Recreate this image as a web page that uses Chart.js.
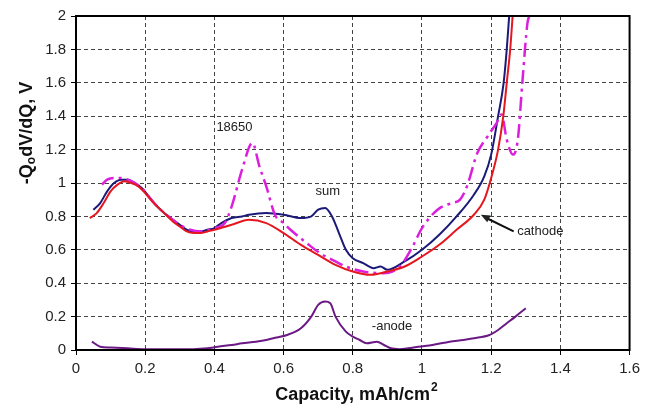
<!DOCTYPE html>
<html>
<head>
<meta charset="utf-8">
<script src="https://cdn.jsdelivr.net/npm/chart.js@4/dist/chart.umd.min.js"></script>
<style>
  html, body { margin: 0; padding: 0; background: #fff; }
  #wrap { width: 645px; height: 408px; position: relative; }
</style>
</head>
<body>
<div id="wrap"><canvas id="chart-utama" width="645" height="408"></canvas></div>
<script>
// values
const xTicks = [0, 0.2, 0.4, 0.6, 0.8, 1, 1.2, 1.4, 1.6];
const yTicks = [0, 0.2, 0.4, 0.6, 0.8, 1, 1.2, 1.4, 1.6, 1.8, 2];

const cathodeX = [0.04,0.06,0.08,0.10,0.12,0.14,0.16,0.18,0.20,0.22,0.25,0.28,0.30,0.32,0.34,0.36,0.38,0.40,0.45,0.50,0.55,0.60,0.65,0.70,0.75,0.80,0.85,0.88,0.90,0.95,1.00,1.05,1.10,1.15,1.18,1.20,1.22,1.235,1.245,1.255,1.262];
const cathodeY = [0.79,0.82,0.88,0.95,0.99,1.01,1.00,0.98,0.94,0.89,0.83,0.77,0.74,0.71,0.70,0.70,0.71,0.72,0.75,0.78,0.76,0.70,0.63,0.57,0.51,0.47,0.45,0.46,0.47,0.50,0.56,0.63,0.72,0.81,0.90,1.03,1.20,1.40,1.60,1.80,2.0];

const sumX = [0.05,0.07,0.09,0.11,0.13,0.15,0.17,0.19,0.21,0.23,0.25,0.28,0.30,0.32,0.34,0.36,0.38,0.40,0.42,0.45,0.48,0.50,0.55,0.60,0.65,0.68,0.70,0.72,0.74,0.76,0.78,0.80,0.83,0.86,0.88,0.90,0.95,1.00,1.05,1.10,1.15,1.18,1.20,1.22,1.236,1.245,1.252];
const sumY = [0.84,0.88,0.95,1.00,1.02,1.02,1.00,0.97,0.92,0.87,0.83,0.78,0.75,0.72,0.71,0.71,0.72,0.73,0.76,0.79,0.80,0.81,0.82,0.81,0.79,0.80,0.84,0.85,0.80,0.70,0.60,0.55,0.52,0.49,0.50,0.48,0.53,0.60,0.69,0.80,0.93,1.04,1.17,1.40,1.60,1.80,2.0];

const cellX = [0.075,0.09,0.11,0.13,0.15,0.17,0.19,0.21,0.23,0.25,0.28,0.30,0.33,0.36,0.40,0.43,0.45,0.48,0.51,0.53,0.55,0.575,0.60,0.62,0.667,0.705,0.75,0.78,0.83,0.887,0.936,0.973,1.00,1.045,1.086,1.11,1.13,1.16,1.19,1.216,1.23,1.245,1.263,1.277,1.29,1.305,1.31];
const cellY = [0.99,1.02,1.03,1.03,1.02,1.00,0.97,0.92,0.87,0.83,0.78,0.75,0.72,0.71,0.73,0.76,0.86,1.08,1.24,1.10,0.98,0.81,0.76,0.72,0.64,0.58,0.53,0.50,0.47,0.46,0.50,0.62,0.73,0.84,0.88,0.90,0.98,1.18,1.28,1.36,1.41,1.26,1.17,1.26,1.60,1.96,2.0];

const anodeX = [0.046,0.07,0.10,0.15,0.20,0.24,0.30,0.34,0.38,0.41,0.45,0.48,0.52,0.55,0.58,0.61,0.65,0.68,0.70,0.72,0.735,0.75,0.78,0.80,0.82,0.84,0.87,0.89,0.91,0.935,0.96,0.99,1.03,1.08,1.12,1.15,1.195,1.22,1.245,1.27,1.30];
const anodeY = [0.05,0.02,0.015,0.01,0.005,0.005,0.005,0.005,0.01,0.02,0.03,0.04,0.05,0.06,0.075,0.09,0.13,0.20,0.27,0.29,0.28,0.20,0.11,0.08,0.06,0.04,0.05,0.03,0.01,0.005,0.01,0.02,0.03,0.05,0.06,0.07,0.09,0.12,0.16,0.20,0.25];

function pts(xs, ys) {
    return xs.map((x, i) => ({ x: x, y: ys[i] }));
}

const fontName = "'Liberation Sans', Arial, sans-serif";

// frame, axis titles, labels and arrow
const extras = {
    id: "extras",
    afterDraw(chart) {
        const c = chart.ctx;
        const a = chart.chartArea;
        c.save();
        c.setLineDash([]);
        c.strokeStyle = "#000";
        c.lineWidth = 2;
        c.strokeRect(a.left, a.top, a.right - a.left, a.bottom - a.top);

        c.fillStyle = "#111";
        c.textBaseline = "middle";

        // x title with superscript
        c.font = "bold 18px " + fontName;
        const t1 = "Capacity, mAh/cm";
        const w1 = c.measureText(t1).width;
        c.font = "bold 12px " + fontName;
        const w2 = c.measureText("2").width;
        let sx = 356 - (w1 + w2) / 2;
        c.font = "bold 18px " + fontName;
        c.textAlign = "left";
        c.fillText(t1, sx, 395);
        c.font = "bold 12px " + fontName;
        c.fillText("2", sx + w1 + 1, 388);

        // y title with subscript
        c.translate(27, 133);
        c.rotate(-Math.PI / 2);
        const p1 = "-Q", p2 = "o", p3 = "dV/dQ, V";
        c.font = "bold 18px " + fontName;
        const a1 = c.measureText(p1).width, a3 = c.measureText(p3).width;
        c.font = "bold 12px " + fontName;
        const a2 = c.measureText(p2).width;
        let yx = -(a1 + a2 + a3) / 2;
        c.font = "bold 18px " + fontName;
        c.fillText(p1, yx, 0);
        c.font = "bold 12px " + fontName;
        c.fillText(p2, yx + a1, 5);
        c.font = "bold 18px " + fontName;
        c.fillText(p3, yx + a1 + a2, 0);
        c.setTransform(1, 0, 0, 1, 0, 0);

        // series labels
        c.font = "13px " + fontName;
        c.fillStyle = "#222";
        c.textAlign = "center";
        const sx0 = chart.scales.x, sy0 = chart.scales.y;
        c.fillText("18650", sx0.getPixelForValue(0.458), sy0.getPixelForValue(1.33));
        c.fillText("sum", sx0.getPixelForValue(0.728), sy0.getPixelForValue(0.95));
        c.textAlign = "left";
        c.fillText("cathode", sx0.getPixelForValue(1.275), sy0.getPixelForValue(0.71));
        c.fillText("-anode", sx0.getPixelForValue(0.855), sy0.getPixelForValue(0.14));

        // arrow to cathode
        const x1 = sx0.getPixelForValue(1.265), y1 = sy0.getPixelForValue(0.71);
        const x2 = sx0.getPixelForValue(1.17), y2 = sy0.getPixelForValue(0.81);
        c.strokeStyle = "#111";
        c.lineWidth = 2;
        c.beginPath();
        c.moveTo(x1, y1);
        c.lineTo(x2 + 5, y2 + 3);
        c.stroke();
        const ang = Math.atan2(y2 - y1, x2 - x1);
        c.beginPath();
        c.moveTo(x2, y2);
        c.lineTo(x2 - 10 * Math.cos(ang - 0.4), y2 - 10 * Math.sin(ang - 0.4));
        c.lineTo(x2 - 10 * Math.cos(ang + 0.4), y2 - 10 * Math.sin(ang + 0.4));
        c.closePath();
        c.fill();
        c.restore();
    }
};

const ticksCommon = {
    color: "#222",
    padding: 5,
    autoSkip: false,
    maxRotation: 0,
    minRotation: 0,
    font: { family: fontName, size: 15 },
    callback: (v) => String(Math.round(v * 10) / 10),
};

const gridCommon = {
    color: "#444",
    tickBorderDash: [],
    tickColor: "#000",
    tickLength: 5,
    lineWidth: 1,
};

const ctx = document.getElementById("chart-utama");
new Chart(ctx, {
    type: "scatter",
    data: {
        datasets: [
            {
                label: "-anode",
                data: pts(anodeX, anodeY),
                borderColor: "#6b1a85",
                borderWidth: 2,
            },
            {
                label: "cathode",
                data: pts(cathodeX, cathodeY),
                borderColor: "#e5161e",
                borderWidth: 2,
            },
            {
                label: "18650",
                data: pts(cellX, cellY),
                borderColor: "#dc1fdc",
                borderWidth: 2.5,
                borderDash: [14, 5, 3, 5],
            },
            {
                label: "sum",
                data: pts(sumX, sumY),
                borderColor: "#1b1a78",
                borderWidth: 2,
            },
        ],
    },
    options: {
        responsive: false,
        animation: false,
        showLine: true,
        elements: { point: { radius: 0 }, line: { cubicInterpolationMode: "monotone" } },
        layout: { padding: { top: 16, right: 15, left: 0, bottom: 0 } },
        plugins: { legend: { display: false }, tooltip: { enabled: false } },
        scales: {
            x: {
                type: "linear",
                min: 0,
                max: 1.6,
                afterFit(scale) { scale.height = 58; },
                afterBuildTicks(scale) { scale.ticks = xTicks.map(v => ({ value: v })); },
                ticks: ticksCommon,
                grid: gridCommon,
                border: { display: true, color: "#000", width: 2, dash: [4, 3] },
            },
            y: {
                min: 0,
                max: 2,
                afterFit(scale) { scale.width = 76; },
                afterBuildTicks(scale) { scale.ticks = yTicks.map(v => ({ value: v })); },
                ticks: ticksCommon,
                grid: gridCommon,
                border: { display: true, color: "#000", width: 2, dash: [4, 3] },
            },
        },
    },
    plugins: [extras],
});
</script>
</body>
</html>
